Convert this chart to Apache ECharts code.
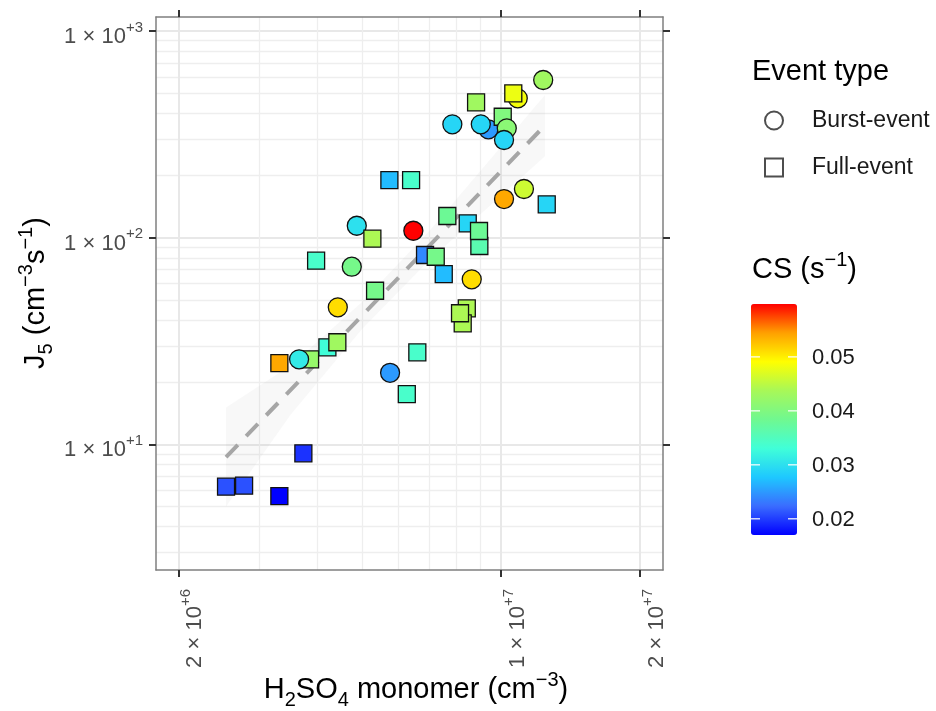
<!DOCTYPE html>
<html><head><meta charset="utf-8">
<script src="https://cdn.jsdelivr.net/npm/echarts@6/dist/echarts.min.js"></script>
<style>html,body{margin:0;padding:0;background:#fff}#c{width:936px;height:711px}</style>
</head><body><div id="c"></div>
<script>
// ---- data ----
const h2so4 = [2.537e6, 2.776e6, 3.31e6, 3.731e6, 3.31e6, 3.858e6, 3.652e6, 4.206e6, 4.42e6, 4.43e6,
  5.335e6, 3.976e6, 4.75e6, 4.87e6, 5.264e6, 6.457e6, 5.73e6, 6.385e6, 6.845e6, 7.22e6,
  7.515e6, 6.587e6, 5.75e6, 6.25e6, 8.43e6, 8.26e6, 8.15e6, 8.64e6, 7.65e6, 8.47e6,
  8.975e6, 8.96e6, 1.015e7, 1.121e7, 1.256e7, 7.844e6, 9.39e6, 9.04e6, 1.0085e7, 1.029e7,
  1.015e7, 8.83e6, 1.087e7, 1.063e7, 1.234e7];
const j5 = [6.24, 6.31, 5.62, 9.05, 24.7, 25.8, 25.8, 29.5, 31.2, 46.05,
  55.4, 77.4, 72.4, 114.3, 98.9, 108.1, 190.2, 190.2, 82.5, 80.9,
  66.7, 27.9, 22.2, 17.5, 45.5, 38.5, 43.1, 62.9, 127.4, 117.4,
  91.2, 107.8, 153.9, 172.1, 145.1, 353.8, 334.6, 353.8, 385.1, 338.4,
  297.1, 452, 472.8, 499.7, 579.7];
const csValues = [0.021, 0.021, 0.017, 0.0195, 0.054, 0.042, 0.031, 0.033, 0.043, 0.051,
  0.039, 0.034, 0.039, 0.030, 0.044, 0.0598, 0.027, 0.034, 0.024, 0.039,
  0.027, 0.034, 0.025, 0.034, 0.044, 0.044, 0.044, 0.051, 0.038, 0.029,
  0.036, 0.038, 0.054, 0.046, 0.029, 0.029, 0.025, 0.029, 0.040, 0.041,
  0.029, 0.043, 0.0485, 0.048, 0.043];
const eventType = ['F','F','F','F','F','F','B','F','F','B',
  'F','F','B','B','F','B','F','F','F','F',
  'F','F','B','F','F','F','F','B','F','F',
  'F','F','B','B','F','B','B','B','F','B',
  'B','F','B','F','B'];

const fitX = [2.537e6, 1.245e7];
const fitY = [8.68, 349.8];
const bandX = [2.537e6, 3.5e6, 5e6, 7e6, 1.245e7];
const bandLow = [5.0, 13.9, 36.2, 78, 248];
const bandHigh = [15.1, 24.1, 48.8, 108, 490];

const xRange = [1.789e6, 2.243e7];
const yRange = [2.466, 1170];
const xTickValues = [2e6, 1e7, 2e7];
const xTickMantissa = ['2', '1', '2'];
const xTickExponent = ['+6', '+7', '+7'];
const xMinorValues = [3e6, 4e6, 5e6, 6e6, 7e6, 8e6, 9e6];
const yTickValues = [10, 100, 1000];
const yTickMantissa = ['1', '1', '1'];
const yTickExponent = ['+1', '+2', '+3'];
const yMinorValues = [3, 4, 5, 6, 7, 8, 9, 20, 30, 40, 50, 60, 70, 80, 90, 200, 300, 400, 500, 600, 700, 800, 900];

const csRange = [0.017, 0.0598];
const csTicks = [0.02, 0.03, 0.04, 0.05];
const csColors = ['#0000ff', '#3a6cff', '#1ec8ff', '#40ffd8', '#70f890', '#a8f858', '#ffff00', '#ffa000', '#ff0000'];

// ---- helpers ----
function tickIndex(ticks, v) {
  let best = 0, bd = Infinity;
  ticks.forEach((t, i) => { const d = Math.abs(Math.log10(t) - Math.log10(v)); if (d < bd) { bd = d; best = i; } });
  return best;
}
const labelColor = '#4d4d4d';
const tickRich = {
  n: {fontSize: 22, fontFamily: 'Liberation Sans', color: labelColor, lineHeight: 28, verticalAlign: 'bottom'},
  s: {fontSize: 15, fontFamily: 'Liberation Sans', color: labelColor, lineHeight: 28, verticalAlign: 'top'}
};

const points = h2so4.map((x, i) => ({
  value: [x, j5[i], csValues[i]],
  symbol: eventType[i] === 'B' ? 'circle' : 'rect',
  symbolSize: eventType[i] === 'B' ? 19 : 17
}));

const grid = {left: 156, top: 17, width: 507, height: 553};
const borderColor = '#7f7f7f';
const tickStyle = {show: true, inside: false, length: 7, lineStyle: {color: '#333', width: 2}};

const chart = echarts.init(document.getElementById('c'), null, {renderer: 'canvas'});

const bar = {left: 751, top: 304, width: 46, height: 231};
function csY(v) { return bar.top + (csRange[1] - v) / (csRange[1] - csRange[0]) * bar.height; }

const titleRich = {
  n: {fontSize: 29, fontFamily: 'Liberation Sans', fill: '#000', lineHeight: 40, verticalAlign: 'middle'},
  b: {fontSize: 20, fontFamily: 'Liberation Sans', fill: '#000', lineHeight: 22, verticalAlign: 'bottom'},
  t: {fontSize: 20, fontFamily: 'Liberation Sans', fill: '#000', lineHeight: 22, verticalAlign: 'top'}
};
const graphics = [];
graphics.push({
  type: 'text', x: 416, y: 690, z: 10,
  style: {text: '{n|H}{b|2}{n|SO}{b|4}{n| monomer (cm}{t|−3}{n|)}', align: 'center', verticalAlign: 'middle', rich: titleRich}
});
graphics.push({
  type: 'text', x: 36, y: 293, rotation: Math.PI / 2, z: 10,
  style: {text: '{n|J}{b|5}{n| (cm}{t|−3}{n|s}{t|−1}{n|)}', align: 'center', verticalAlign: 'middle', rich: titleRich}
});
graphics.push({type: 'text', left: 752, top: 57, style: {text: 'Event type', fontSize: 29, fontFamily: 'Liberation Sans', fill: '#000'}});
graphics.push({
  type: 'text', left: 752, top: 250,
  style: {text: '{n|CS (s}{t|−1}{n|)}', rich: titleRich}
});
csTicks.forEach(v => {
  const y = csY(v);
  graphics.push({type: 'line', z: 20, shape: {x1: bar.left, y1: y, x2: bar.left + 9, y2: y}, style: {stroke: '#fff', lineWidth: 1.2}});
  graphics.push({type: 'line', z: 20, shape: {x1: bar.left + bar.width - 9, y1: y, x2: bar.left + bar.width, y2: y}, style: {stroke: '#fff', lineWidth: 1.2}});
  graphics.push({type: 'text', x: 812, y: y + 1, z: 20, style: {text: v.toFixed(2), fontSize: 22, fontFamily: 'Liberation Sans', fill: '#1a1a1a', verticalAlign: 'middle'}});
});

const option = {
  animation: false,
  backgroundColor: '#fff',
  grid: grid,
  xAxis: [
    {
      type: 'log', logBase: 10, min: xRange[0], max: xRange[1], position: 'bottom', gridIndex: 0,
      axisLine: {show: true, onZero: false, lineStyle: {color: borderColor, width: 1.5}},
      axisTick: Object.assign({customValues: xTickValues}, tickStyle),
      axisLabel: {
        customValues: xTickValues, rotate: 90, margin: 19, rich: tickRich, padding: [28, 0, 0, 0],
        formatter: v => { const i = tickIndex(xTickValues, v); return '{n|' + xTickMantissa[i] + ' × 10}{s|' + xTickExponent[i] + '}'; }
      },
      splitLine: {show: true, lineStyle: {color: '#e8e8e8', width: 2}}
    },
    {
      type: 'log', logBase: 10, min: xRange[0], max: xRange[1], position: 'top', gridIndex: 0,
      axisLine: {show: true, onZero: false, lineStyle: {color: borderColor, width: 1.5}},
      axisTick: Object.assign({customValues: xTickValues}, tickStyle),
      axisLabel: {show: false, customValues: xTickValues},
      splitLine: {show: false}
    },
    {
      type: 'log', logBase: 10, min: xRange[0], max: xRange[1], position: 'bottom', gridIndex: 0,
      axisLine: {show: false}, axisTick: {show: false, customValues: xMinorValues},
      axisLabel: {show: false, customValues: xMinorValues},
      splitLine: {show: true, lineStyle: {color: '#eeeeee', width: 1.3}}
    }
  ],
  yAxis: [
    {
      type: 'log', logBase: 10, min: yRange[0], max: yRange[1], position: 'left', gridIndex: 0,
      axisLine: {show: true, onZero: false, lineStyle: {color: borderColor, width: 1.5}},
      axisTick: Object.assign({customValues: yTickValues}, tickStyle),
      axisLabel: {
        customValues: yTickValues, margin: 13, rich: tickRich, padding: [6, 0, 0, 0],
        formatter: v => { const i = tickIndex(yTickValues, v); return '{n|' + yTickMantissa[i] + ' × 10}{s|' + yTickExponent[i] + '}'; }
      },
      splitLine: {show: true, lineStyle: {color: '#e8e8e8', width: 2}}
    },
    {
      type: 'log', logBase: 10, min: yRange[0], max: yRange[1], position: 'right', gridIndex: 0,
      axisLine: {show: true, onZero: false, lineStyle: {color: borderColor, width: 1.5}},
      axisTick: Object.assign({customValues: yTickValues}, tickStyle),
      axisLabel: {show: false, customValues: yTickValues},
      splitLine: {show: false}
    },
    {
      type: 'log', logBase: 10, min: yRange[0], max: yRange[1], position: 'left', gridIndex: 0,
      axisLine: {show: false}, axisTick: {show: false, customValues: yMinorValues},
      axisLabel: {show: false, customValues: yMinorValues},
      splitLine: {show: true, lineStyle: {color: '#eeeeee', width: 1.3}}
    }
  ],
  visualMap: {
    type: 'continuous', min: csRange[0], max: csRange[1], dimension: 2, seriesIndex: 0,
    calculable: false, showLabel: false, text: null, hoverLink: false,
    inRange: {color: csColors},
    itemWidth: bar.width, itemHeight: bar.height,
    left: bar.left, top: bar.top, padding: 0,
    orient: 'vertical'
  },
  legend: {
    orient: 'vertical', left: 759, top: 104, itemWidth: 18, itemHeight: 18, itemGap: 24,
    selectedMode: false,
    textStyle: {fontSize: 23, fontFamily: 'Liberation Sans', color: '#1a1a1a', padding: [0, 0, 0, 24]},
    data: [{name: 'Burst-event', icon: 'circle'}, {name: 'Full-event', icon: 'rect'}]
  },
  graphic: graphics,
  series: [
    {
      type: 'scatter', name: 'points', xAxisIndex: 0, yAxisIndex: 0, z: 5,
      data: points,
      itemStyle: {borderColor: '#111', borderWidth: 1.3, opacity: 1},
      emphasis: {disabled: true}
    },
    {
      type: 'custom', name: 'band', xAxisIndex: 0, yAxisIndex: 0, z: 2, silent: true,
      data: [[bandX[0], bandLow[0]]],
      renderItem: (params, api) => {
        const pts = [];
        for (let i = 0; i < bandX.length; i++) pts.push(api.coord([bandX[i], bandHigh[i]]));
        for (let i = bandX.length - 1; i >= 0; i--) pts.push(api.coord([bandX[i], bandLow[i]]));
        return {type: 'polygon', shape: {points: pts}, style: {fill: 'rgba(150,150,150,0.07)'}};
      }
    },
    {
      type: 'line', name: 'fit', xAxisIndex: 0, yAxisIndex: 0, z: 3, silent: true,
      data: fitX.map((x, i) => [x, fitY[i]]), symbol: 'none',
      lineStyle: {color: '#a6a6a6', width: 4, type: [17, 12]}
    },
    {type: 'scatter', name: 'Burst-event', symbol: 'circle', data: [], itemStyle: {color: '#fff', borderColor: '#222', borderWidth: 1.5}},
    {type: 'scatter', name: 'Full-event', symbol: 'rect', data: [], itemStyle: {color: '#fff', borderColor: '#222', borderWidth: 1.5}}
  ]
};
chart.setOption(option);
</script>
</body></html>
